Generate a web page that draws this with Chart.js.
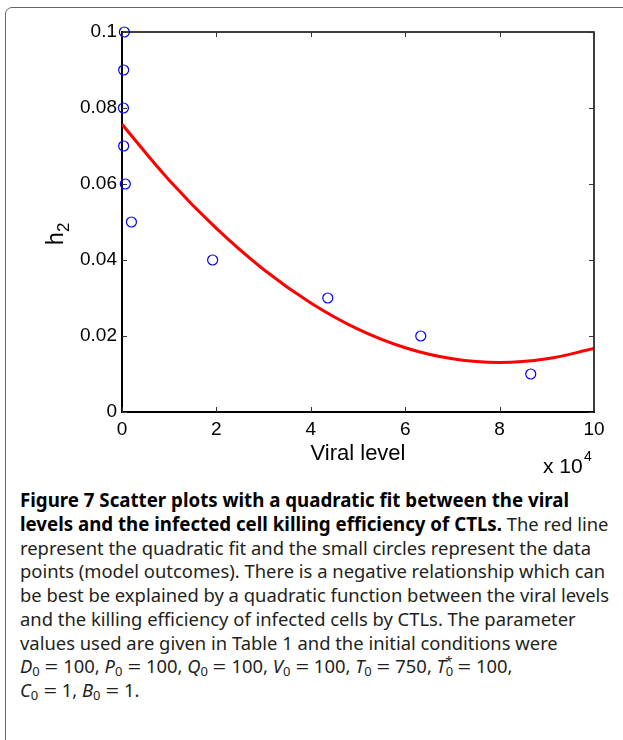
<!DOCTYPE html>
<html>
<head>
<meta charset="utf-8">
<script src="https://cdn.jsdelivr.net/npm/chart.js@4"></script>
<style>
  html, body { margin: 0; padding: 0; background: #fff; overflow: hidden; }
  body { width: 623px; height: 740px; position: relative; }
  #frame {
    position: absolute; left: 5px; top: 7px; width: 700px; height: 800px;
    border: 1.5px solid #666; border-radius: 7px;
  }
  #chartBox { position: absolute; left: 0; top: 0; width: 623px; height: 480px; }
  #caption {
    position: absolute; left: 20px; top: 488px;
    font-family: "Noto Sans", sans-serif; font-size: 18.4px; line-height: 23.75px;
    color: #231f20; white-space: nowrap;
  }
  #caption b { color: #000; font-size: 18.7px; }
  #caption sub { font-size: 13px; vertical-align: -3px; line-height: 0; font-style: normal; }
  #caption sup { font-size: 13px; line-height: 0; }
  #caption .eq { display: inline-block; margin: 0 6.5px; transform: scaleX(1.3); }
</style>
</head>
<body>
<div id="frame"></div>
<div id="chartBox"><canvas id="mycanvas" width="623" height="480"></canvas></div>
<div id="caption">
<b>Figure 7 Scatter plots with a quadratic fit between the viral</b><br>
<b>levels and the infected cell killing efficiency of CTLs.</b> The red line<br>
represent the quadratic fit and the small circles represent the data<br>
points (model outcomes). There is a negative relationship which can<br>
be best be explained by a quadratic function between the viral levels<br>
and the killing efficiency of infected cells by CTLs. The parameter<br>
values used are given in Table 1 and the initial conditions were<br>
<i>D</i><sub>0</sub><span class="eq">=</span>100, <i>P</i><sub>0</sub><span class="eq">=</span>100, <i>Q</i><sub>0</sub><span class="eq">=</span>100, <i>V</i><sub>0</sub><span class="eq">=</span>100, <i>T</i><sub>0</sub><span class="eq">=</span>750, <i>T</i><sub>0</sub><sup style="margin-left:-8px">*</sup><span class="eq">=</span>100,<br>
<i>C</i><sub>0</sub><span class="eq">=</span>1, <i>B</i><sub>0</sub><span class="eq">=</span>1.
</div>
<script>
// data points (viral level in units of 10^4)
var viralLevel = [0.05, 0.035, 0.03, 0.035, 0.07, 0.2, 1.92, 4.36, 6.33, 8.66];
var h2Values = [0.1, 0.09, 0.08, 0.07, 0.06, 0.05, 0.04, 0.03, 0.02, 0.01];

// red quadratic fit line
var fitX = [0, 1, 2, 3, 4, 5, 6, 7, 8, 9, 10];
var fitY = [0.0757, 0.0610, 0.0483, 0.0375, 0.0287, 0.0218, 0.0169, 0.0140, 0.0130, 0.0140, 0.0167];

var xTicks = [0, 2, 4, 6, 8, 10];
var yTicks = [0, 0.02, 0.04, 0.06, 0.08, 0.1];
var yTickLabels = ['0', '0.02', '0.04', '0.06', '0.08', '0.1'];

var tickFont = { family: "'Liberation Sans', Arial, sans-serif", size: 19 };

var pointData = [];
for (var i in viralLevel) {
    pointData.push({ x: viralLevel[i], y: h2Values[i] });
}
var fitData = [];
for (var j in fitX) {
    fitData.push({ x: fitX[j], y: fitY[j] });
}

// matlab style box + inward ticks + extra labels
var matlabAxes = {
    id: 'matlabAxes',
    afterDraw: function(chart) {
        var ctx = chart.ctx;
        var a = chart.chartArea;
        var xs = chart.scales.x, ys = chart.scales.y;
        ctx.save();
        ctx.strokeStyle = '#000';
        ctx.lineWidth = 1.5;
        ctx.beginPath();
        ctx.moveTo(a.left, a.top); ctx.lineTo(a.right, a.top); ctx.lineTo(a.right, a.bottom);
        ctx.stroke();

        ctx.lineWidth = 1;
        ctx.strokeStyle = '#333';
        ctx.beginPath();
        xTicks.forEach(function(v) {
            var px = Math.round(xs.getPixelForValue(v)) + 0.5;
            ctx.moveTo(px, a.bottom); ctx.lineTo(px, a.bottom - 5);
            ctx.moveTo(px, a.top); ctx.lineTo(px, a.top + 5);
        });
        yTicks.forEach(function(v) {
            var py = Math.round(ys.getPixelForValue(v)) + 0.5;
            ctx.moveTo(a.left, py); ctx.lineTo(a.left + 5, py);
            ctx.moveTo(a.right, py); ctx.lineTo(a.right - 5, py);
        });
        ctx.stroke();

        // y title: h with subscript 2
        ctx.fillStyle = '#000';
        ctx.translate(63, 234);
        ctx.rotate(-Math.PI / 2);
        ctx.font = "23px 'Liberation Sans', Arial, sans-serif";
        ctx.textBaseline = 'alphabetic';
        ctx.textAlign = 'left';
        ctx.fillText('h', -11, 0);
        ctx.font = "17px 'Liberation Sans', Arial, sans-serif";
        ctx.fillText('2', 2, 6);
        ctx.restore();

        // exponent label
        ctx.save();
        ctx.fillStyle = '#000';
        ctx.font = "21px 'Liberation Sans', Arial, sans-serif";
        ctx.textBaseline = 'alphabetic';
        ctx.fillText('x 10', 543, 473);
        ctx.font = "14px 'Liberation Sans', Arial, sans-serif";
        ctx.fillText('4', 584, 461);
        ctx.restore();
    }
};

var ctx = document.getElementById('mycanvas');

var scatterChart = new Chart(ctx, {
    type: 'scatter',
    data: {
        datasets: [
            {
                label: 'fit',
                data: fitData,
                showLine: true,
                borderColor: '#ff0000',
                borderWidth: 3,
                pointRadius: 0,
                tension: 0.4,
                fill: false,
                order: 2
            },
            {
                label: 'points',
                data: pointData,
                borderColor: '#0000ff',
                backgroundColor: 'rgba(0,0,0,0)',
                borderWidth: 1.2,
                pointRadius: 5,
                pointStyle: 'circle',
                clip: false,
                order: 1
            }
        ]
    },
    options: {
        responsive: false,
        animation: false,
        layout: { padding: { top: 32, right: 29, left: 0, bottom: 0 } },
        plugins: { legend: { display: false }, tooltip: { enabled: false } },
        scales: {
            x: {
                type: 'linear',
                min: 0, max: 10,
                afterBuildTicks: function(s) { s.ticks = xTicks.map(function(v) { return { value: v }; }); },
                afterFit: function(s) { s.height = 68; },
                ticks: { font: tickFont, color: '#000', padding: 6, maxRotation: 0 },
                grid: { display: false, drawTicks: false },
                border: { color: '#000', width: 2 },
                title: {
                    display: true, text: 'Viral level', color: '#000',
                    font: { family: "'Liberation Sans', Arial, sans-serif", size: 22 },
                    padding: { top: 0, bottom: 13 }
                }
            },
            y: {
                min: 0, max: 0.1,
                afterBuildTicks: function(s) { s.ticks = yTicks.map(function(v) { return { value: v }; }); },
                afterFit: function(s) { s.width = 122; },
                ticks: {
                    font: tickFont, color: '#000', padding: 5,
                    callback: function(value, index) { return yTickLabels[index]; }
                },
                grid: { display: false, drawTicks: false },
                border: { color: '#000', width: 2 }
            }
        }
    },
    plugins: [matlabAxes]
});
</script>
</body>
</html>
